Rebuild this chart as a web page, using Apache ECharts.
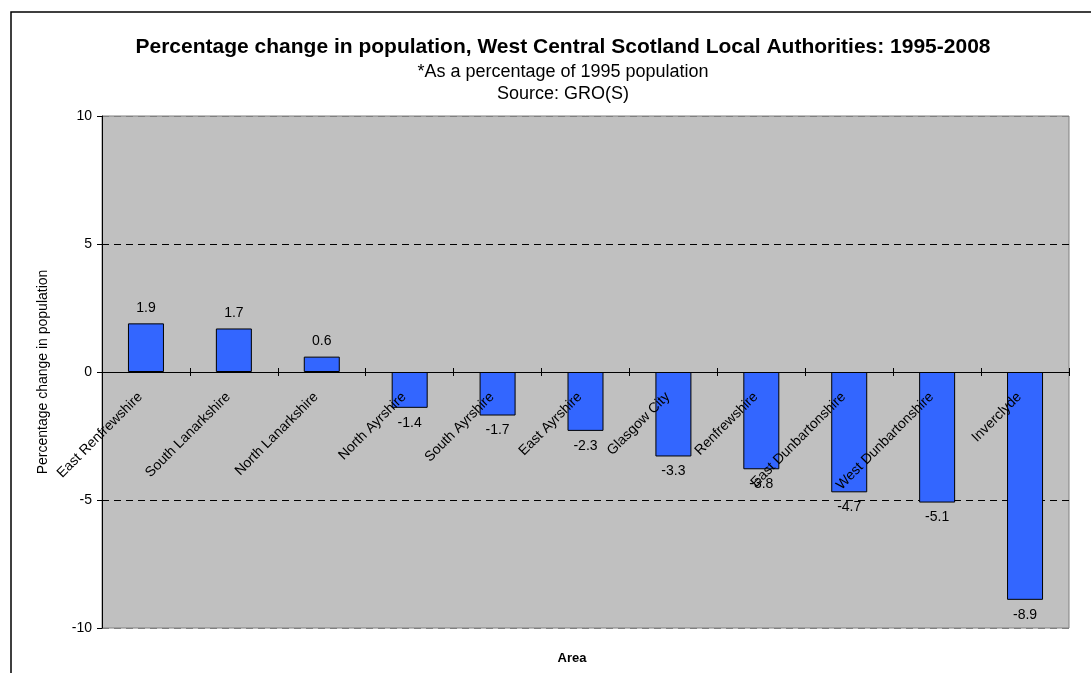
<!DOCTYPE html>
<html>
<head>
<meta charset="utf-8">
<script src="https://cdn.jsdelivr.net/npm/echarts@6/dist/echarts.min.js"></script>
<style>
html,body{margin:0;padding:0;background:#fff;}
#chart{width:1091px;height:673px;}
</style>
</head>
<body>
<div id="chart"></div>
<script>
var categories = ['East Renfrewshire','South Lanarkshire','North Lanarkshire','North Ayrshire','South Ayrshire','East Ayrshire','Glasgow City','Renfrewshire','East Dunbartonshire','West Dunbartonshire','Inverclyde'];
var values = [1.9, 1.7, 0.6, -1.4, -1.7, -2.3, -3.3, -3.8, -4.7, -5.1, -8.9];
var yMin = -10, yMax = 10, yStep = 5;

var chart = echarts.init(document.getElementById('chart'));
var font = 'Arial, "Liberation Sans", sans-serif';
var gridTop = 116, gridBottom = 45, chartH = 673;
var plotH = chartH - gridTop - gridBottom;
// pixel distance from the bottom of the plot up to value 0 (from the axis range)
var zeroFromBottom = plotH * (0 - yMin) / (yMax - yMin);

var barData = values.map(function (v) {
  return { value: v, label: { position: v >= 0 ? 'top' : 'bottom' } };
});
chart.setOption({
  animation: false,
  backgroundColor: '#fff',
  title: [
    { text: 'Percentage change in population, West Central Scotland Local Authorities: 1995-2008',
      left: 558, top: 32, textAlign: 'center',
      textStyle: { fontFamily: font, fontSize: 21, fontWeight: 'bold', color: '#000' } },
    { text: '*As a percentage of 1995 population', left: 558, top: 58, textAlign: 'center',
      textStyle: { fontFamily: font, fontSize: 18, fontWeight: 'normal', color: '#000' } },
    { text: 'Source: GRO(S)', left: 558, top: 80, textAlign: 'center',
      textStyle: { fontFamily: font, fontSize: 18, fontWeight: 'normal', color: '#000' } },
    { text: 'Area', left: 567, top: 647, textAlign: 'center',
      textStyle: { fontFamily: font, fontSize: 13, fontWeight: 'bold', color: '#000' } }
  ],
  graphic: [
    { type: 'rect', shape: { x: 11, y: 12, width: 1200, height: 800 },
      style: { fill: 'none', stroke: '#000', lineWidth: 1.5 }, z: 100 }
  ],
  grid: { left: 102, right: 22, top: gridTop, bottom: gridBottom, show: true, containLabel: false,
          outerBoundsMode: 'none',
          backgroundColor: '#C0C0C0', borderColor: '#808080', borderWidth: 1 },
  xAxis: {
    type: 'category', data: categories, position: 'bottom', z: 10,
    offset: -(zeroFromBottom - 4),
    axisLine: { show: false, onZero: false },
    axisTick: { show: true, inside: true, interval: 0, length: 8, lineStyle: { color: '#000' } },
    axisLabel: { interval: 0, rotate: 45, margin: 13, padding: [0, 8, 0, 0],
                 color: '#000', fontFamily: font, fontSize: 14 },
    splitLine: { show: false }
  },
  yAxis: {
    type: 'value', min: yMin, max: yMax, interval: yStep,
    name: 'Percentage change in population', nameLocation: 'middle', nameGap: 52,
    nameTextStyle: { fontFamily: font, fontSize: 14, color: '#000' },
    axisLine: { show: true, lineStyle: { color: '#000' } },
    axisTick: { show: true, length: 5, lineStyle: { color: '#000' } },
    axisLabel: { color: '#000', fontFamily: font, fontSize: 14, margin: 10 },
    splitLine: { show: true, lineStyle: { color: ['#808080', '#000', '#000', '#000', '#808080'], type: [7, 5], width: 1 } }
  },
  series: [{
    type: 'bar', data: barData, barWidth: 36,
    itemStyle: { color: '#3366FF', borderColor: '#000', borderWidth: 1 },
    label: { show: true, color: '#000', fontFamily: font, fontSize: 14, distance: 8,
             formatter: function (p) { return p.value.toFixed(1); } },
    markLine: {
      silent: true, symbol: 'none', label: { show: false },
      lineStyle: { color: '#000', type: 'solid', width: 1 },
      data: [{ yAxis: 0 }]
    }
  }]
});
</script>
</body>
</html>
